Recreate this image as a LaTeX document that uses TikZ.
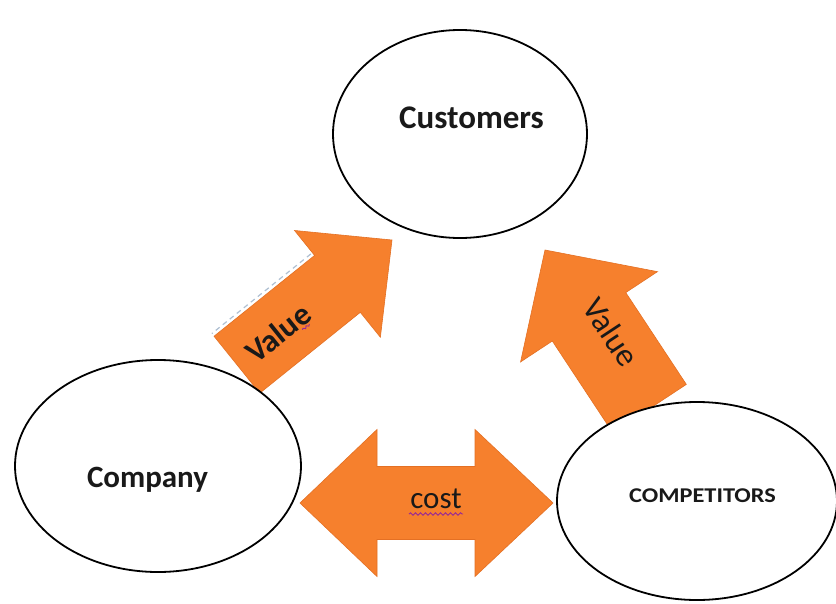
\documentclass[tikz,border=0pt]{standalone}
\usepackage{fontspec}
\setmainfont{Carlito}
\usetikzlibrary{shapes.geometric,decorations.pathmorphing}
\definecolor{arr}{RGB}{246,128,45}
\definecolor{arredge}{RGB}{228,112,36}
\definecolor{txt}{RGB}{25,25,25}
\definecolor{sq}{RGB}{150,40,150}
\definecolor{selbox}{RGB}{175,192,210}
\tikzset{
  blob/.style={ellipse, draw=black, line width=1.8pt, fill=white, inner sep=0pt},
  arrowshape/.style={fill=arr, draw=arredge, line width=0.6pt, line join=miter},
  selline/.style={draw=selbox, dash pattern=on 5pt off 4pt, line width=1.2pt},
  squig/.style={draw=sq, line width=0.9pt, decorate, decoration={snake, segment length=5pt, amplitude=1.2pt}},
  lbl/.style={text=txt, inner sep=0pt, anchor=base},
  vlbl/.style={text=txt, inner sep=0pt}
}
\begin{document}
\begin{tikzpicture}[x=1pt,y=-1pt]
\useasboundingbox (0,0) rectangle (836,603);
\fill[white] (0,0) rectangle (836,603);

% left Value arrow (Company -> Customers)
\begin{scope}[shift={(392,240)}, rotate=38.8]
  \draw[arrowshape] (0,0) -- (-70,68.5) -- (-70,36.5) -- (-199,36.5) -- (-199,-36.5) -- (-70,-36.5) -- (-70,-68.5) -- cycle;
  \draw[selline] (-72,-40) -- (-199,-40);
  \node[vlbl, rotate=38.8, font=\bfseries\fontsize{32}{36}\selectfont] (v1) at (-147,1) {Value};
  \draw[squig, decoration={snake, segment length=4pt, amplitude=1pt}] (-126,14) -- (-117,14);
\end{scope}

% right Value arrow (Competitors -> Customers)
\begin{scope}[shift={(545,250)}, rotate=123.4]
  \draw[arrowshape] (0,0) -- (-80,82) -- (-80,44) -- (-190,44) -- (-190,-44) -- (-80,-44) -- (-80,-82) -- cycle;
  \node[vlbl, rotate=-56.6, font=\fontsize{33}{36}\selectfont] (v2) at (-105,10) {Value};
\end{scope}

% cost double arrow
\draw[arrowshape] (300,503) -- (377,429.5) -- (377,466.5) -- (475,466.5) -- (475,429.5) -- (553,503)
  -- (475,576.5) -- (475,539.5) -- (377,539.5) -- (377,576.5) -- cycle;
\node[lbl, font=\fontsize{31}{34}\selectfont] (cost) at (436,508) {cost};
\draw[squig] (409,514) -- (463,514);

% ellipses
\node[blob, minimum width=254pt, minimum height=208pt] (cust) at (460,134) {};
\node[blob, minimum width=286pt, minimum height=212pt] (comp) at (158,466) {};
\node[blob, minimum width=280pt, minimum height=198pt] (compet) at (697,501) {};

\node[lbl, font=\bfseries\fontsize{33}{36}\selectfont] (custt) at (471.5,128) {Customers};
\node[lbl, font=\bfseries\fontsize{31}{34}\selectfont] (compt) at (147.5,487) {Company};
\node[lbl, font=\bfseries\fontsize{21}{24}\selectfont] (compett) at (702.5,502) {\scalebox{1.16}[1]{COMPETITORS}};
\end{tikzpicture}
\end{document}
